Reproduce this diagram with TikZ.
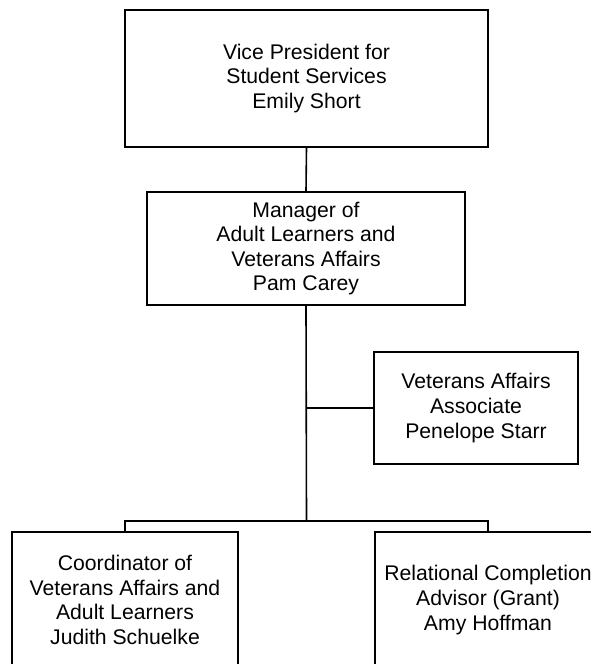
\documentclass[tikz,border=0pt]{standalone}
\usepackage{fontspec}
\setmainfont{Liberation Sans}
\begin{document}
\begin{tikzpicture}[x=1pt,y=-1pt,
  orgbox/.style={draw,line width=1.6pt,rectangle,inner sep=0pt,align=center,
    font=\fontsize{21.2}{24.6}\selectfont},
  link/.style={line width=1.6pt}]
\useasboundingbox (0,0) rectangle (591,664);
\clip (0,0) rectangle (591,664);
\node[orgbox,minimum width=363pt,minimum height=137pt] (vp) at (306.5,78.5)
  {Vice President for\\Student Services\\Emily Short};
\node[orgbox,minimum width=318pt,minimum height=113pt] (mgr) at (306,248.5)
  {Manager of\\Adult Learners and\\Veterans Affairs\\Pam Carey};
\node[orgbox,minimum width=204pt,minimum height=112pt] (assoc) at (476,408)
  {Veterans Affairs\\Associate\\Penelope Starr};
\node[orgbox,minimum width=226pt,minimum height=136pt] (coord) at (125,600)
  {Coordinator of\\Veterans Affairs and\\Adult Learners\\Judith Schuelke};
\node[orgbox,minimum width=226pt,minimum height=136pt] (rel) at (488,600)
  {Relational Completion\\Advisor (Grant)\\Amy Hoffman};
\coordinate (bar) at (306.5,521);
\coordinate (tap) at (306.5,408);
\draw[link] (vp.south) -- (mgr.north);
\draw[link] (mgr.south) -- (bar);
\draw[link] (tap) -- (assoc.west);
\draw[link] (coord.north) -- (coord.north |- bar) -- (rel.north |- bar) -- (rel.north);
\end{tikzpicture}
\end{document}
